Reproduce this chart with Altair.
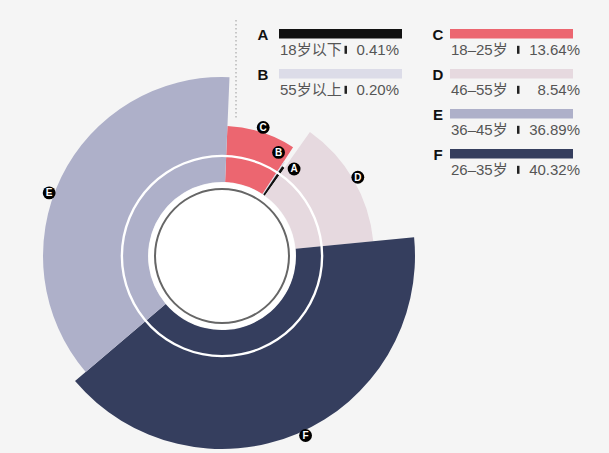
import math
import altair as alt
import pandas as pd

# ---- legend content (as printed) ----
keys = ["A", "B", "C", "D", "E", "F"]
ages = ["18岁以下", "55岁以上", "18–25岁", "46–55岁", "36–45岁", "26–35岁"]
pcts = ["0.41%", "0.20%", "13.64%", "8.54%", "36.89%", "40.32%"]
colors = ["#111111", "#dcdce8", "#ec6670", "#e6d9df", "#aeb0c9", "#353e5e"]

# ---- sectors as drawn, clockwise from 12 o'clock ----
sector_keys = ["C", "B", "A", "D", "F", "E"]
sector_share = [8.54, 0.20, 0.41, 13.64, 40.32, 36.89]   # angular share (%)
sector_length = [130, 113, 108, 152, 193, 179]           # outer length of each petal

CX, CY = 222, 256          # centre of the rose
OFF_DEG = 2.4              # small rotation of the whole rose
INNER = 74

sec = pd.DataFrame({"key": sector_keys, "share": sector_share,
                    "r": sector_length, "idx": list(range(len(sector_keys)))})

col_of = [0 if i < 2 else 1 for i in range(len(keys))]
row_of = [i if i < 2 else i - 2 for i in range(len(keys))]
leg = pd.DataFrame({"key": keys, "age": ages, "pct": pcts,
                    "col": col_of, "row": row_of})
one = pd.DataFrame({"z": [0]})

XS = alt.Scale(domain=[0, 609], range=[0, 609], nice=False, zero=False)
YS = alt.Scale(domain=[0, 453], range=[0, 453], nice=False, zero=False)
color_scale = alt.Scale(domain=keys, range=colors)
theta_scale = alt.Scale(domain=[0, 100], nice=False, zero=False,
                        range=[math.radians(OFF_DEG), math.radians(OFF_DEG) + 2 * math.pi])
radius_scale = alt.Scale(type="linear", domain=[0, 200], range=[0, 200], zero=True, nice=False)

FONT = "Liberation Sans, Noto Sans CJK SC"

# cumulative angular positions (computed by Vega from the shares)
sec_base = alt.Chart(sec).transform_window(
    cum="sum(share)", sort=[alt.SortField("idx")], frame=[None, 0]
).transform_calculate(
    t0="datum.cum - datum.share",
    t1="datum.cum",
)

# ---- rose sectors ----
arcs = sec_base.mark_arc().encode(
    theta=alt.Theta("t0:Q", stack=False, scale=theta_scale),
    theta2="t1:Q",
    radius=alt.Radius("r:Q", scale=radius_scale, stack=False),
    radius2=alt.value(INNER),
    color=alt.Color("key:N", scale=color_scale, legend=None),
    x=alt.value(CX), y=alt.value(CY),
)

def ring(r_out, r_in, col):
    return alt.Chart(one).mark_arc(color=col).encode(
        theta=alt.value(0), theta2=alt.value(2 * math.pi),
        radius=alt.value(r_out), radius2=alt.value(r_in),
        x=alt.value(CX), y=alt.value(CY),
    )

white_ring = ring(101.3, 98.9, "white")
disk = ring(73.5, 0, "white")
grey_ring = ring(68, 66, "#666666")

dotted = alt.Chart(one).mark_rule(color="#999999", strokeDash=[1.5, 2.5], strokeWidth=1).encode(
    x=alt.value(236), y=alt.value(20), y2=alt.value(118))

# ---- sector labels (black disc + white letter) ----
lab_base = sec_base.transform_calculate(
    nudge=("datum.key == 'A' ? 1.4 : (datum.key == 'B' ? -1.35 : "
           "(datum.key == 'E' ? -1.65 : (datum.key == 'F' ? -0.55 : 0)))"),
).transform_calculate(
    ang=f"({OFF_DEG} + 3.6 * (datum.cum - datum.share / 2 + datum.nudge)) * PI / 180",
    lr="datum.r + 5",
).transform_calculate(
    px=f"{CX} + datum.lr * sin(datum.ang)",
    py=f"{CY} - datum.lr * cos(datum.ang)",
).encode(
    x=alt.X("px:Q", scale=XS, axis=None),
    y=alt.Y("py:Q", scale=YS, axis=None),
)
lab_dots = lab_base.mark_circle(size=165, color="#000000", opacity=1)
lab_text = lab_base.mark_text(color="white", fontSize=10, fontWeight="bold",
                              font="Liberation Sans", align="center", baseline="middle",
                              dy=0.5).encode(text="key:N")

# ---- legend ----
leg_base = alt.Chart(leg).transform_calculate(
    bx="279 + 171 * datum.col",
    bc="33.8 + 40 * datum.row",
).transform_calculate(
    bx2="datum.bx + 123",
    by="datum.bc - 4.8",
    by2="datum.bc + 4.8",
    lx="datum.bx - (datum.col == 0 ? 16 : 12)",
    ly="datum.bc + 1",
    ax="datum.bx + 1",
    ay="datum.bc + 16",
    sx="datum.bx + (datum.col == 0 ? 65.5 : 67)",
    sy="datum.bc + 12",
    sy2="datum.bc + 20",
    px="datum.bx + (datum.col == 0 ? 120 : 130)",
).transform_calculate(
    sx2="datum.sx + 2.5",
)

leg_letters = leg_base.mark_text(fontSize=15, font="Liberation Sans", fontWeight="bold",
                                 color="#111111", align="center", baseline="middle").encode(
    x=alt.X("lx:Q", scale=XS, axis=None), y=alt.Y("ly:Q", scale=YS, axis=None), text="key:N")
leg_bars = leg_base.mark_rect().encode(
    x=alt.X("bx:Q", scale=XS, axis=None), x2="bx2:Q",
    y=alt.Y("by:Q", scale=YS, axis=None), y2="by2:Q",
    color=alt.Color("key:N", scale=color_scale, legend=None))
leg_ages = leg_base.mark_text(fontSize=15, font=FONT, color="#555555",
                              align="left", baseline="middle").encode(
    x=alt.X("ax:Q", scale=XS, axis=None), y=alt.Y("ay:Q", scale=YS, axis=None), text="age:N")
leg_seps = leg_base.mark_rect(color="#222222").encode(
    x=alt.X("sx:Q", scale=XS, axis=None), x2="sx2:Q",
    y=alt.Y("sy:Q", scale=YS, axis=None), y2="sy2:Q")
leg_pcts = leg_base.mark_text(fontSize=15, font=FONT, color="#555555",
                              align="right", baseline="middle").encode(
    x=alt.X("px:Q", scale=XS, axis=None), y=alt.Y("ay:Q", scale=YS, axis=None), text="pct:N")

chart = alt.layer(
    arcs, white_ring, disk, grey_ring, dotted,
    lab_dots, lab_text,
    leg_letters, leg_bars, leg_ages, leg_seps, leg_pcts,
).properties(
    width=609, height=453, padding=0, background="#f5f5f5"
).configure_view(strokeWidth=0)

chart.save("out.html", embed_options={"renderer": "svg", "actions": False})
